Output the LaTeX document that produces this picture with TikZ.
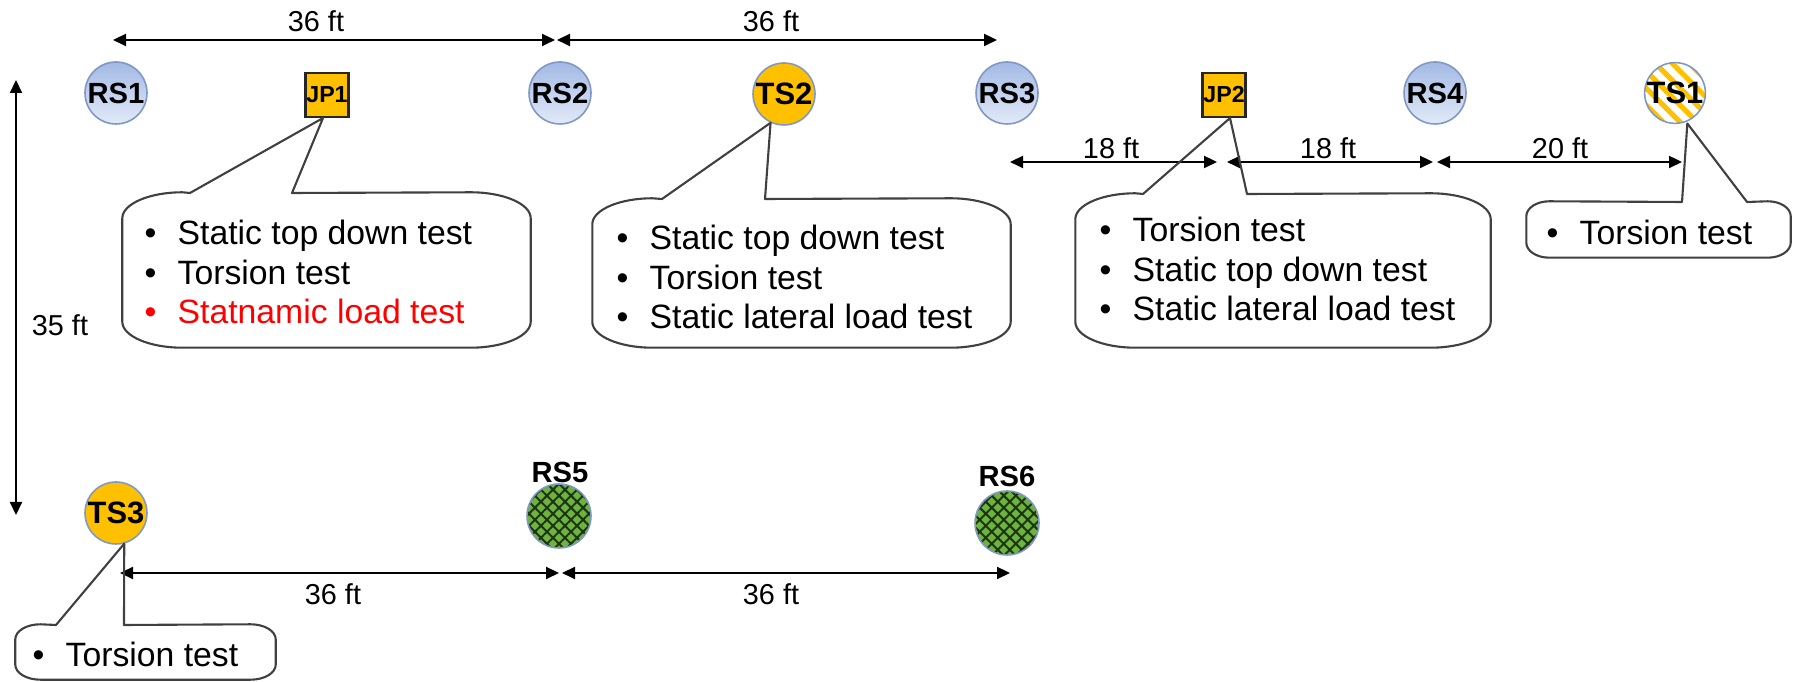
\documentclass[tikz,border=0pt]{standalone}
\usepackage{fontspec}
\setmainfont{Liberation Sans}
\usetikzlibrary{arrows.meta,patterns.meta}
\definecolor{gold}{HTML}{FFC000}
\definecolor{rimblue}{HTML}{7F98C4}
\definecolor{topblue}{HTML}{A3B9E4}
\definecolor{lowblue}{HTML}{E2EAF8}
\definecolor{pilegreen}{HTML}{6DB33F}
\definecolor{hatchdark}{HTML}{1E3310}
\definecolor{calloutgray}{HTML}{404040}
\newcommand{\itm}{\makebox[0.33cm][l]{\textbullet}}
% #1 box, #2 left base, #3 right base, #4 tip, #5 x radius, #6 y radius
\newcommand{\callout}[6]{%
  \draw[callout line] (#4) -- (#2) -- ([xshift=#5]#1.north west)
    arc[start angle=90,end angle=180,x radius=#5,y radius=#6]
    -- ([yshift=#6]#1.south west)
    arc[start angle=180,end angle=270,x radius=#5,y radius=#6]
    -- ([xshift=-#5]#1.south east)
    arc[start angle=270,end angle=360,x radius=#5,y radius=#6]
    -- ([yshift=-#6]#1.north east)
    arc[start angle=0,end angle=90,x radius=#5,y radius=#6]
    -- (#3) -- cycle;}
\begin{document}
\begin{tikzpicture}[
    rsnode/.style={circle, draw=rimblue, line width=0.45pt, top color=topblue,
      bottom color=lowblue, minimum size=0.62cm, inner sep=0pt,
      font=\bfseries\fontsize{8.3}{9}\selectfont},
    tsnode/.style={circle, draw=rimblue, line width=0.45pt, fill=gold,
      minimum size=0.62cm, inner sep=0pt, font=\bfseries\fontsize{8.8}{9}\selectfont},
    jpnode/.style={rectangle, draw=black!85, line width=0.6pt, fill=gold,
      minimum width=0.43cm, minimum height=0.44cm, inner sep=0pt,
      font=\bfseries\fontsize{6.6}{7}\selectfont},
    stripenode/.style={circle, draw=rimblue, line width=0.45pt,
      pattern={Lines[angle=-45,distance=0.12cm,line width=0.05cm]}, pattern color=gold,
      minimum size=0.57cm, inner sep=0pt, font=\bfseries\fontsize{8.8}{9}\selectfont},
    hatchnode/.style={circle, draw=rimblue, line width=0.45pt,
      preaction={fill=pilegreen},
      pattern={Hatch[angle=45,distance=0.085cm,line width=0.02cm]}, pattern color=hatchdark,
      minimum size=0.64cm, inner sep=0pt},
    pilelabel/.style={font=\bfseries\fontsize{8.3}{9}\selectfont, inner sep=0pt},
    dimlabel/.style={font=\fontsize{8.2}{9}\selectfont, inner sep=0pt},
    dim/.style={{Triangle[length=0.13cm,width=0.12cm]}-{Triangle[length=0.13cm,width=0.12cm]},
      line width=0.6pt},
    box/.style={rectangle, draw=none, inner sep=0pt},
    testlist/.style={anchor=west, align=left, inner sep=0pt,
      font=\fontsize{9.6}{11.2}\selectfont},
    callout line/.style={draw=calloutgray, line width=0.6pt, line join=round}
  ]
  \useasboundingbox (0,0) rectangle (17.99,6.82);

  % piles, top row
  \node[rsnode] (rs1) at (1.16,5.89) {RS1};
  \node[jpnode] (jp1) at (3.27,5.87) {JP1};
  \node[rsnode] (rs2) at (5.60,5.89) {RS2};
  \node[tsnode] (ts2) at (7.84,5.88) {TS2};
  \node[rsnode] (rs3) at (10.07,5.89) {RS3};
  \node[jpnode] (jp2) at (12.24,5.87) {JP2};
  \node[rsnode] (rs4) at (14.35,5.89) {RS4};
  \node[stripenode] (ts1) at (16.75,5.89) {TS1};

  % piles, bottom row
  \node[tsnode] (ts3) at (1.16,1.69) {TS3};
  \node[hatchnode] (rs5) at (5.59,1.66) {};
  \node[pilelabel] (rs5label) at (5.60,2.10) {RS5};
  \node[hatchnode] (rs6) at (10.07,1.59) {};
  \node[pilelabel] (rs6label) at (10.07,2.06) {RS6};

  % dimension lines
  \coordinate (t0) at (1.13,6.42);
  \coordinate (t1) at (5.55,6.42);
  \coordinate (t2) at (5.57,6.42);
  \coordinate (t3) at (9.97,6.42);
  \coordinate (m0) at (10.10,5.20);
  \coordinate (m1) at (12.17,5.20);
  \coordinate (m2) at (12.27,5.20);
  \coordinate (m3) at (14.33,5.20);
  \coordinate (m4) at (14.37,5.20);
  \coordinate (m5) at (16.82,5.20);
  \coordinate (b0) at (1.20,1.09);
  \coordinate (b1) at (5.59,1.09);
  \coordinate (b2) at (5.62,1.09);
  \coordinate (b3) at (10.10,1.09);
  \coordinate (v0) at (0.16,6.02);
  \coordinate (v1) at (0.16,1.67);
  \begin{scope}[dim]
    \draw (t0) to (t1);
    \draw (t2) to (t3);
    \draw (m0) to (m1);
    \draw (m2) to (m3);
    \draw (m4) to (m5);
    \draw (b0) to (b1);
    \draw (b2) to (b3);
    \draw (v0) to (v1);
  \end{scope}
  \node[dimlabel] (lt1) at (3.16,6.61) {36 ft};
  \node[dimlabel] (lt2) at (7.71,6.61) {36 ft};
  \node[dimlabel] (lm1) at (11.11,5.34) {18 ft};
  \node[dimlabel] (lm2) at (13.28,5.34) {18 ft};
  \node[dimlabel] (lm3) at (15.60,5.34) {20 ft};
  \node[dimlabel] (lb1) at (3.33,0.88) {36 ft};
  \node[dimlabel] (lb2) at (7.71,0.88) {36 ft};
  \node[dimlabel] (lv) at (0.60,3.57) {35 ft};

  % callouts
  \node[box, minimum width=4.07cm, minimum height=1.54cm] (jp1box) at (3.265,4.12) {};
  \node[box, minimum width=4.17cm, minimum height=1.48cm] (ts2box) at (8.015,4.09) {};
  \node[box, minimum width=4.14cm, minimum height=1.53cm] (jp2box) at (12.83,4.115) {};
  \node[box, minimum width=2.63cm, minimum height=0.55cm] (ts1box) at (16.585,4.525) {};
  \node[box, minimum width=2.59cm, minimum height=0.54cm] (ts3box) at (1.455,0.30) {};
  \coordinate (jp1l) at (1.90,4.89);
  \coordinate (jp1r) at (2.92,4.89);
  \coordinate (ts2l) at (6.62,4.83);
  \coordinate (ts2r) at (7.65,4.83);
  \coordinate (jp2l) at (11.43,4.88);
  \coordinate (jp2r) at (12.47,4.88);
  \coordinate (ts1l) at (16.82,4.80);
  \coordinate (ts1r) at (17.47,4.80);
  \coordinate (ts3l) at (0.56,0.57);
  \coordinate (ts3r) at (1.24,0.57);
  \callout{jp1box}{jp1l}{jp1r}{[xshift=-0.04cm]jp1.south}{0.6cm}{0.26cm}
  \callout{ts2box}{ts2l}{ts2r}{ts2.-115}{0.6cm}{0.26cm}
  \callout{jp2box}{jp2l}{jp2r}{[xshift=0.06cm]jp2.south}{0.6cm}{0.26cm}
  \callout{ts1box}{ts1l}{ts1r}{ts1.-68}{0.23cm}{0.15cm}
  \callout{ts3box}{ts3l}{ts3r}{ts3.-75}{0.25cm}{0.15cm}

  \node[testlist] (jp1tests) at (1.44,4.10)
    {\itm Static top down test\\ \itm Torsion test\\
     {\color{red}\itm Statnamic load test}};
  \node[testlist] (ts2tests) at (6.16,4.05)
    {\itm Static top down test\\ \itm Torsion test\\ \itm Static lateral load test};
  \node[testlist] (jp2tests) at (10.99,4.13)
    {\itm Torsion test\\ \itm Static top down test\\ \itm Static lateral load test};
  \node[testlist] (ts1tests) at (15.46,4.50) {\itm Torsion test};
  \node[testlist] (ts3tests) at (0.32,0.28) {\itm Torsion test};
\end{tikzpicture}
\end{document}
